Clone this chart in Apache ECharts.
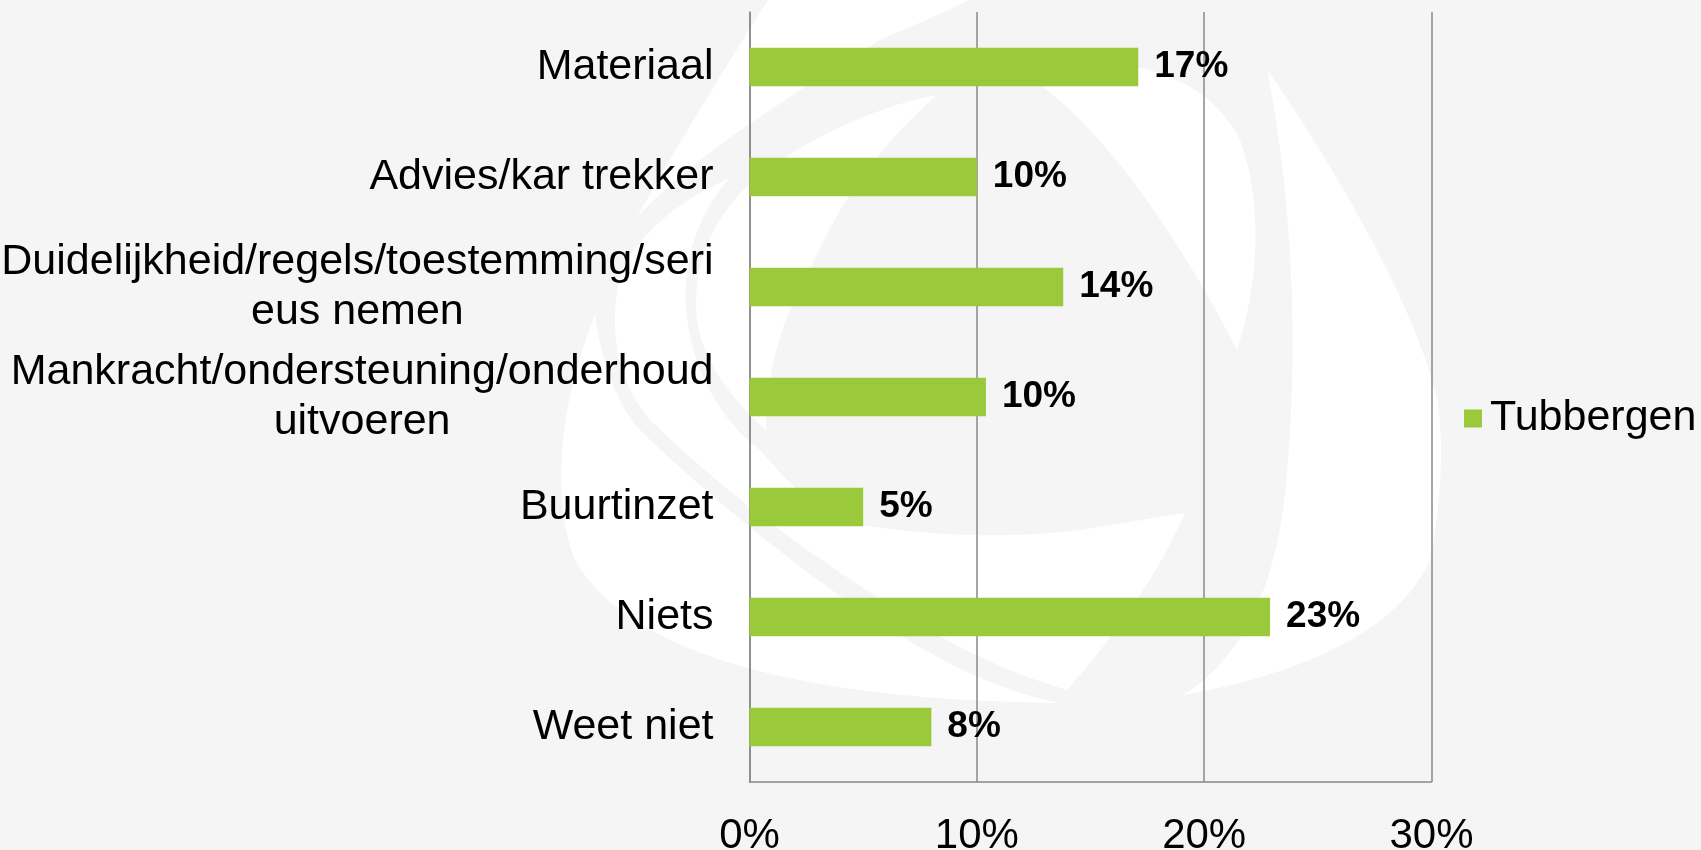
<!DOCTYPE html>
<html>
<head>
<meta charset="utf-8">
<script src="https://cdn.jsdelivr.net/npm/echarts@6/dist/echarts.min.js"></script>
<style>
html,body{margin:0;padding:0;background:#f5f5f5;}
#chart{width:1701px;height:850px;}
</style>
</head>
<body>
<div id="chart"></div>
<script>
const categories = [
  "Materiaal",
  "Advies/kar trekker",
  "Duidelijkheid/regels/toestemming/seri\neus nemen",
  "Mankracht/ondersteuning/onderhoud\nuitvoeren",
  "Buurtinzet",
  "Niets",
  "Weet niet"
];
const seriesName = "Tubbergen";
const values = [17.1, 10.0, 13.8, 10.4, 5.0, 22.9, 8.0];
const xTicks = [0, 10, 20, 30];

const FONT = "'Liberation Sans', Arial, sans-serif";
const chart = echarts.init(document.getElementById('chart'), null, {renderer: 'canvas'});

// decorative background swirl (not data)
const bgShapes = [
  // A: top wedge
  'M768,0 L968,0 C930,20 900,30 880,40 C800,90 700,150 637,217 C680,140 730,60 768,0 Z',
  // B: big lower-left crescent
  'M595,315 C560,400 550,500 575,560 C620,640 760,700 1060,703 C990,690 920,650 860,610 C780,555 690,480 635,425 C610,390 600,350 595,315 Z',
  // F: lower blade
  'M730,178 C700,210 682,260 686,310 C692,370 720,420 760,450 C790,485 820,515 850,523 C920,535 1000,540 1080,530 L1185,513 C1160,570 1120,630 1067,690 C1000,670 940,640 885,602 C800,548 720,488 650,420 C620,385 605,330 622,270 C645,225 690,195 730,178 Z',
  // C: upper-left crescent
  'M937,95 C880,105 800,140 748,185 C708,225 692,270 697,320 C702,360 732,400 766,430 C765,380 780,320 810,270 C840,200 880,145 937,95 Z',
  // E1: upper-right small crescent
  'M1043,87 C1100,130 1170,220 1237,350 C1260,280 1262,200 1240,140 C1220,100 1180,75 1139,68 C1100,70 1070,80 1043,87 Z',
  // D: right crescent
  'M1267,69 C1292,197 1300,345 1285,493 C1275,590 1240,660 1183,695 C1300,675 1400,630 1430,560 C1445,480 1442,430 1437,400 C1420,320 1350,190 1267,69 Z'
];
function pathToPoints(d) {
  const tok = d.replace(/([MLCZ])/g, ' $1 ').replace(/,/g, ' ').trim().split(/\s+/);
  const pts = [];
  let i = 0, cx = 0, cy = 0, cmd = '';
  while (i < tok.length) {
    const t = tok[i];
    if (/[MLCZ]/.test(t)) { cmd = t; i++; if (cmd === 'Z') continue; }
    if (cmd === 'M' || cmd === 'L') {
      cx = +tok[i]; cy = +tok[i + 1]; i += 2; pts.push([cx, cy]);
    } else if (cmd === 'C') {
      const x1 = +tok[i], y1 = +tok[i + 1], x2 = +tok[i + 2], y2 = +tok[i + 3], x3 = +tok[i + 4], y3 = +tok[i + 5];
      i += 6;
      for (let k = 1; k <= 24; k++) {
        const s = k / 24, u = 1 - s;
        pts.push([
          u * u * u * cx + 3 * u * u * s * x1 + 3 * u * s * s * x2 + s * s * s * x3,
          u * u * u * cy + 3 * u * u * s * y1 + 3 * u * s * s * y2 + s * s * s * y3
        ]);
      }
      cx = x3; cy = y3;
    } else { i++; }
  }
  return pts;
}

const bgElements = bgShapes.map(p => ({
  type: 'polygon', silent: true, z: -10,
  shape: {points: pathToPoints(p)},
  style: {fill: '#ffffff'}
}));

const option = {
  backgroundColor: '#f5f5f5',
  animation: false,
  graphic: {elements: bgElements},
  grid: {left: 749.5, right: 269.5, top: 12, bottom: 68, containLabel: false, outerBoundsMode: 'none'},
  legend: {
    data: [seriesName],
    orient: 'vertical',
    left: 1459,
    top: 392,
    itemWidth: 18,
    itemHeight: 18,
    icon: 'rect',
    itemGap: 0,
    textStyle: {fontSize: 43, color: '#000', fontFamily: FONT, padding: [0, 0, 0, 3]}
  },
  xAxis: {
    type: 'value',
    min: xTicks[0],
    max: xTicks[xTicks.length - 1],
    interval: 10,
    axisLine: {show: true, lineStyle: {color: '#888888', width: 1.5}},
    axisTick: {show: false},
    splitLine: {show: true, lineStyle: {color: '#888888', width: 1.5}},
    axisLabel: {
      formatter: v => v + '%',
      fontSize: 42, color: '#000', fontFamily: FONT, margin: 33
    }
  },
  yAxis: {
    type: 'category',
    data: categories,
    inverse: true,
    axisLine: {show: true, lineStyle: {color: '#888888', width: 1.5}},
    axisTick: {show: false},
    splitLine: {show: false},
    axisLabel: {
      margin: 36,
      formatter: v => v.split('\n').map(l => '{c|' + l + '}').join('\n'),
      rich: {
        c: {align: 'center', fontSize: 43, lineHeight: 50, color: '#000', fontFamily: FONT}
      }
    }
  },
  series: [{
    name: seriesName,
    type: 'bar',
    data: values,
    barCategoryGap: '65%',
    itemStyle: {color: '#9bc93c'},
    label: {
      show: true,
      position: 'right',
      distance: 16,
      formatter: p => Math.round(p.value) + '%',
      fontSize: 37,
      fontWeight: 'bold',
      color: '#000',
      fontFamily: FONT
    }
  }]
};
chart.setOption(option);
</script>
</body>
</html>
